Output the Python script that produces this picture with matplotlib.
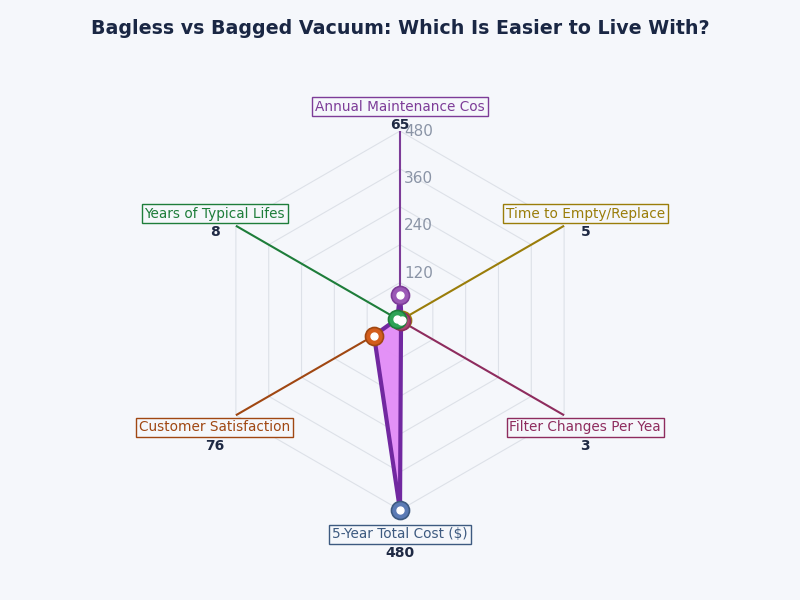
import numpy as np
import matplotlib.pyplot as plt

categories = ['Annual Maintenance Cos', 'Time to Empty/Replace', 'Filter Changes Per Yea',
              '5-Year Total Cost ($)', 'Customer Satisfaction', 'Years of Typical Lifes']
values = [65, 5, 3, 480, 76, 8]
colors = ['#7d3c98', '#9a7d0a', '#8e2c5e', '#3d5a80', '#a04712', '#1e7d3a']
marker_colors = ['#9b59b6', '#b8952a', '#a8476f', '#5b7bb5', '#d35d1c', '#2ea356']
tick_vals = [120, 240, 360, 480]
grid_vals = [96, 192, 288, 384, 480]
RMAX = 480

BG = '#f5f7fb'

# centre (400, 320.5) px, radius 189.5 px
cx, cy, R = 400 / 800, 1 - 320.5 / 600, 189.5
fig = plt.figure(figsize=(8, 6), dpi=100, facecolor=BG)
ax = fig.add_axes([cx - R / 800, cy - R / 600, 2 * R / 800, 2 * R / 600], projection='polar')
ax.set_facecolor(BG)
ax.set_theta_zero_location('N')
ax.set_theta_direction(-1)
ax.set_ylim(0, RMAX)
ax.grid(False)
ax.spines['polar'].set_visible(False)
ax.set_xticks([])
ax.set_yticks([])

n = len(categories)
angles = np.arange(n) * 2 * np.pi / n
closed = np.append(angles, angles[0])

# hexagon grid
for g in grid_vals:
    ax.plot(closed, [g] * (n + 1), color='#dde1e8', lw=0.8, zorder=1)

# spokes
for a, c in zip(angles, colors):
    ax.plot([a, a], [0, RMAX], color=c, lw=1.5, zorder=2)

# radial tick labels
for t in tick_vals:
    ax.annotate(str(t), (0, t), xytext=(3, 0), textcoords='offset points',
                color='#8a94a6', fontsize=11, ha='left', va='center', zorder=3)

# data polygon
vals_closed = values + [values[0]]
ax.fill(closed, vals_closed, color='#e38cf7', alpha=0.95, zorder=4)
ax.plot(closed, vals_closed, color='#7128a0', lw=3, zorder=5)
for a, v, c, mc in zip(angles, values, colors, marker_colors):
    ax.plot(a, v, 'o', ms=13, mfc=mc, mec=c, mew=1.2, zorder=6, clip_on=False)
    ax.plot(a, v, 'o', ms=5, mfc='white', mec='white', zorder=7, clip_on=False)

# axis labels with values
for a, lab, v, c in zip(angles, categories, values, colors):
    ax.text(a, 542, lab, color=c, fontsize=9.8, ha='center', va='center',
            bbox=dict(boxstyle='square,pad=0.2', fc=BG, ec=c, lw=1),
            clip_on=False, zorder=8)
    ax.annotate(str(v), (a, 542), xytext=(0, -13), textcoords='offset points',
                color='#1f2a44', fontsize=10, fontweight='bold',
                ha='center', va='center', annotation_clip=False, zorder=8)

fig.text(0.5, 0.953, 'Bagless vs Bagged Vacuum: Which Is Easier to Live With?',
         ha='center', va='center', fontsize=13.7, fontweight='bold', color='#1a2744')

plt.savefig('out.png', dpi=100, facecolor=BG)
